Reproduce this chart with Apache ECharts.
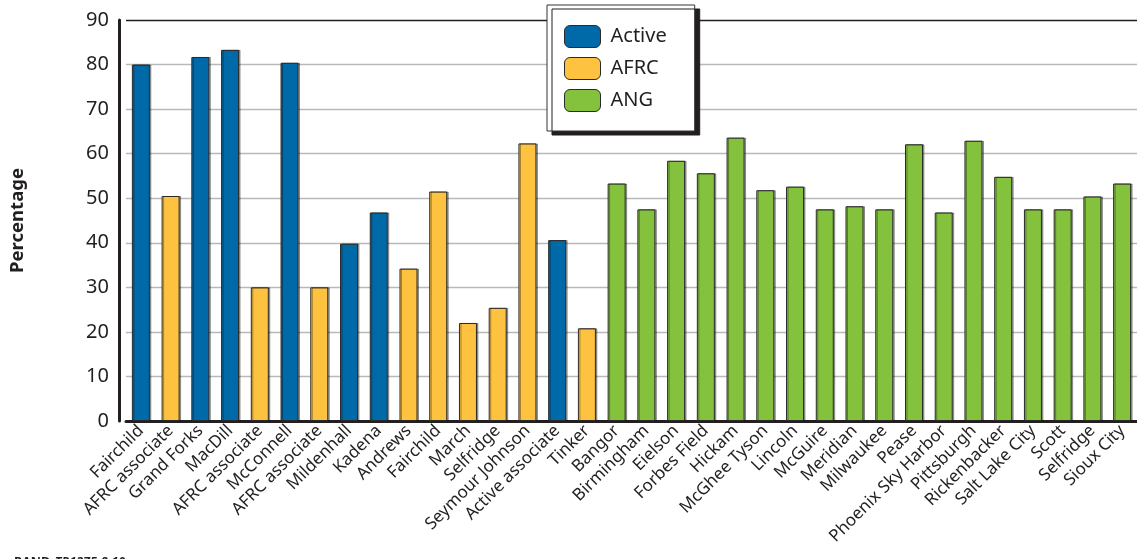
<!DOCTYPE html>
<html>
<head>
<meta charset="utf-8">
<script src="https://cdn.jsdelivr.net/npm/echarts@6/dist/echarts.min.js"></script>
<style>
html,body{margin:0;padding:0;background:#fff;}
#c{width:1137px;height:559px;}
</style>
</head>
<body>
<div id="c"></div>
<script>
const categories = ['Fairchild','AFRC associate','Grand Forks','MacDill','AFRC associate','McConnell','AFRC associate','Mildenhall','Kadena','Andrews','Fairchild','March','Selfridge','Seymour Johnson','Active associate','Tinker','Bangor','Birmingham','Eielson','Forbes Field','Hickam','McGhee Tyson','Lincoln','McGuire','Meridian','Milwaukee','Pease','Phoenix Sky Harbor','Pittsburgh','Rickenbacker','Salt Lake City','Scott','Selfridge','Sioux City'];
const values = [80.0, 50.5, 81.7, 83.3, 30.0, 80.4, 30.0, 39.8, 46.8, 34.2, 51.5, 22.0, 25.4, 62.3, 40.6, 20.8, 53.3, 47.5, 58.4, 55.6, 63.6, 51.8, 52.6, 47.5, 48.2, 47.5, 62.1, 46.8, 62.9, 54.8, 47.5, 47.5, 50.4, 53.3];
const groups = ['Active','AFRC','Active','Active','AFRC','Active','AFRC','Active','Active','AFRC','AFRC','AFRC','AFRC','AFRC','Active','AFRC','ANG','ANG','ANG','ANG','ANG','ANG','ANG','ANG','ANG','ANG','ANG','ANG','ANG','ANG','ANG','ANG','ANG','ANG'];
const seriesNames = ['Active','AFRC','ANG'];
const seriesColors = ['#006AA8','#FDC23F','#84C23D'];
const yTicks = [0,10,20,30,40,50,60,70,80,90];

const FONT = '"Noto Sans", "Open Sans", sans-serif';
const chart = echarts.init(document.getElementById('c'), null, {renderer:'canvas'});

const series = seriesNames.map((name, si) => ({
  name: name,
  type: 'bar',
  stack: 'all',
  barWidth: 18,
  data: values.map((v, i) => groups[i] === name ? v : null),
  itemStyle: {
    color: seriesColors[si],
    borderColor: '#2a2a2a',
    borderWidth: 1,
    shadowColor: 'rgba(0,0,0,0.35)',
    shadowOffsetX: 1.5,
    shadowOffsetY: 0,
    shadowBlur: 0
  }
}));

const gridColors = yTicks.map((t, i) => i === yTicks.length - 1 ? '#231f20' : '#b9b9b9');

chart.setOption({
  animation: false,
  backgroundColor: '#fff',
  textStyle: {fontFamily: FONT, color: '#231f20'},
  title: {
    text: '{b|RAND} {i|TR1375-8.10}',
    left: 9, top: 548,
    textStyle: {
      rich: {
        b: {fontFamily: FONT, fontWeight: 'bold', fontSize: 12.5, color: '#231f20'},
        i: {fontFamily: FONT, fontStyle: 'italic', fontSize: 12.5, color: '#231f20'}
      }
    }
  },
  legend: {
    orient: 'vertical',
    left: 547, top: 5,
    padding: [20, 28, 19, 17],
    itemWidth: 36, itemHeight: 22, itemGap: 9,
    backgroundColor: '#fff',
    borderColor: '#333',
    borderWidth: 1,
    shadowColor: '#231f20',
    shadowOffsetX: 5,
    shadowOffsetY: 4,
    shadowBlur: 0,
    itemStyle: {borderColor: '#2a2a2a', borderWidth: 1},
    textStyle: {fontFamily: FONT, fontSize: 20, color: '#231f20', padding: [0,0,0,5]},
    data: seriesNames
  },
  grid: {left: 126, right: 0, top: 20, bottom: 138, containLabel: false},
  xAxis: {
    type: 'category',
    data: categories,
    axisLine: {show: true, lineStyle: {color: '#231f20', width: 3}},
    axisTick: {show: false},
    axisLabel: {rotate: 45, interval: 0, margin: 7, fontSize: 17, fontFamily: FONT, color: '#231f20'}
  },
  yAxis: {
    type: 'value',
    min: 0, max: 90, interval: 10,
    offset: 7,
    name: 'Percentage',
    nameLocation: 'middle',
    nameGap: 92,
    nameTextStyle: {fontFamily: FONT, fontWeight: 'bold', fontSize: 18.5, color: '#231f20'},
    axisLine: {show: true, lineStyle: {color: '#231f20', width: 3}},
    axisTick: {show: false},
    axisLabel: {fontSize: 20, fontFamily: FONT, color: '#231f20', margin: 10},
    splitLine: {show: true, lineStyle: {color: gridColors, width: 1.3}}
  },
  series: series
});
</script>
</body>
</html>
